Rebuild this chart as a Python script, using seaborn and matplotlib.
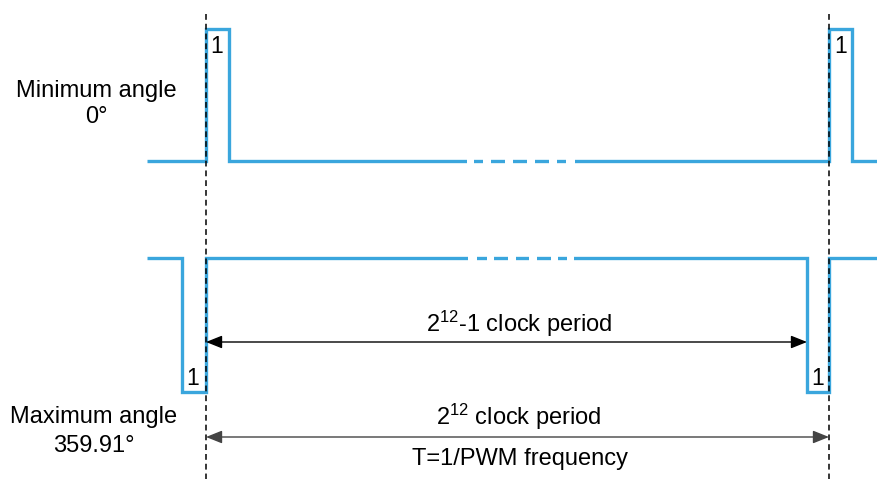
import pandas as pd
import matplotlib
matplotlib.use("Agg")
import matplotlib.pyplot as plt
import seaborn as sns

# Waveform corner points (diagram units = pixels of the original drawing)
min_x = [147, 206, 206, 229, 229, 829, 829, 852, 852, 877]
min_y = [161, 161, 29, 29, 161, 161, 29, 29, 161, 161]
max_x = [147, 182, 182, 206, 206, 807, 807, 829, 829, 877]
max_y = [258, 258, 392, 392, 258, 258, 392, 392, 258, 258]

# Breaks in the long level (start, end) for each waveform
min_gaps = [(467, 474), (483, 491), (505, 513), (527, 535), (549, 557), (566, 575)]
max_gaps = [(468, 477), (487, 494), (508, 516), (529, 537), (551, 558), (567, 574)]

# Period markers
period_start = 206
period_end = 829
short_end = 807

sns.set_theme(style="white")
plt.rcParams['font.family'] = ['Liberation Sans', 'DejaVu Sans']
plt.rcParams['text.color'] = 'black'
plt.rcParams['mathtext.fontset'] = 'custom'
plt.rcParams['mathtext.rm'] = 'Liberation Sans'
plt.rcParams['mathtext.it'] = 'Liberation Sans:italic'

BLUE = '#3aa6dd'

df = pd.concat([
    pd.DataFrame({'x': min_x, 'y': min_y, 'signal': 'min'}),
    pd.DataFrame({'x': max_x, 'y': max_y, 'signal': 'max'}),
], ignore_index=True)

fig = plt.figure(figsize=(8.77, 4.79), dpi=100)
ax = fig.add_axes([0, 0, 1, 1])

sns.lineplot(data=df, x='x', y='y', units='signal', estimator=None, sort=False,
             color=BLUE, lw=2.4, ax=ax, legend=False,
             solid_joinstyle='miter', solid_capstyle='butt')

# white breaks in the long levels
for gaps, level in [(min_gaps, min_y[0]), (max_gaps, max_y[0])]:
    for a, b in gaps:
        ax.plot([a, b], [level, level], color='white', lw=4.5, solid_capstyle='butt', zorder=3)

# dashed period markers
for xv in [period_start, period_end]:
    ax.plot([xv, xv], [14, 479], color='black', lw=1.1,
            linestyle=(0, (3.8, 2.6)), zorder=4)

# arrows
ax.annotate('', xy=(short_end, 342), xytext=(period_start, 342),
            arrowprops=dict(arrowstyle='<|-|>,head_length=0.7,head_width=0.28',
                            color='black', lw=1.0, shrinkA=0, shrinkB=0,
                            mutation_scale=14), zorder=5)
ax.annotate('', xy=(period_end, 437), xytext=(period_start, 437),
            arrowprops=dict(arrowstyle='<|-|>,head_length=0.7,head_width=0.28',
                            color='#444444', lw=1.0, shrinkA=0, shrinkB=0,
                            mutation_scale=14), zorder=5)

fs = 17
ax.text(519, 332, r'2$^{\mathrm{12}}$-1 clock period', fontsize=fs, ha='center', va='baseline')
ax.text(519, 425, r'2$^{\mathrm{12}}$ clock period', fontsize=fs, ha='center', va='baseline')
ax.text(520, 465, 'T=1/PWM frequency', fontsize=fs, ha='center', va='baseline')

ax.text(96, 97, 'Minimum angle', fontsize=fs, ha='center', va='baseline')
ax.text(96, 123, '0°', fontsize=fs, ha='center', va='baseline')
ax.text(94, 423, 'Maximum angle', fontsize=fs, ha='center', va='baseline')
ax.text(94, 452, '359.91°', fontsize=fs, ha='center', va='baseline')

for xt, yt in [(217, 53), (841, 53), (193, 385), (818, 385)]:
    ax.text(xt, yt, '1', fontsize=16.5, ha='center', va='baseline')

ax.set_xlim(0, 877)
ax.set_ylim(479, 0)
ax.axis('off')

fig.savefig('out.png', dpi=100)
